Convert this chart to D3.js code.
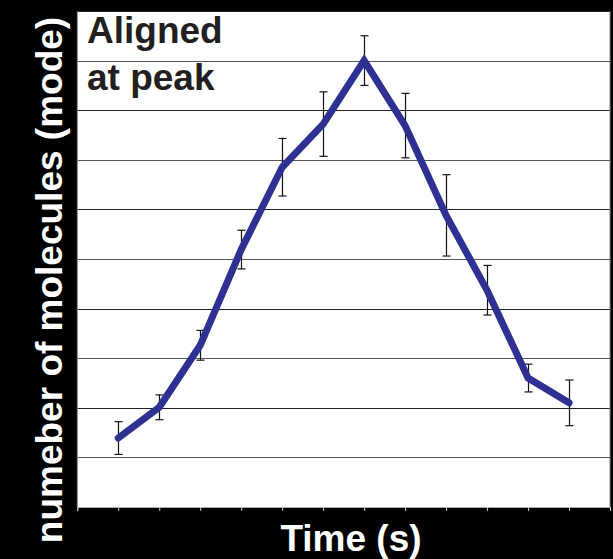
<!DOCTYPE html>
<html>
<head>
<meta charset="utf-8">
<script src="https://cdn.jsdelivr.net/npm/d3@7"></script>
<style>
html,body{margin:0;padding:0;background:#000;}
svg{display:block;}
</style>
</head>
<body>
<svg id="chart" width="613" height="559"></svg>
<script>
const timePoints = [1,2,3,4,5,6,7,8,9,10,11,12];
const moleculeValues = [1.39, 2.01, 3.26, 5.19, 6.85, 7.72, 9.0, 7.69, 5.88, 4.37, 2.60, 2.10];
const errorValues = [0.33, 0.25, 0.30, 0.39, 0.58, 0.65, 0.50, 0.65, 0.82, 0.50, 0.28, 0.46];
const xTicks = [0,1,2,3,4,5,6,7,8,9,10,11,12,13];
const yGrid = [1,2,3,4,5,6,7,8,9,10];
const titleLines = ["Aligned", "at peak"];
const xLabel = "Time (s)";
const yLabel = "numeber of molecules (mode)";

(function(){
const svg = d3.select("#chart");
const pLeft = 77.3, pRight = 610, pTop = 11, pBottom = 507;
const x = d3.scaleLinear().domain([0,13]).range([pLeft,pRight]);
const y = d3.scaleLinear().domain([0,10]).range([pBottom,pTop]);
const font = "'Liberation Sans', Arial, sans-serif";

svg.append("rect").attr("width",613).attr("height",559).attr("fill","#000");
svg.append("rect").attr("x",pLeft).attr("y",pTop).attr("width",pRight-pLeft).attr("height",pBottom-pTop).attr("fill","#fff");

// gridlines
svg.append("g").selectAll("line").data(yGrid).join("line")
  .attr("x1",pLeft).attr("x2",pRight)
  .attr("y1",d=>Math.round(y(d))+0.5).attr("y2",d=>Math.round(y(d))+0.5)
  .attr("stroke",(d,i)=> i%2===0 ? "#555" : "#222").attr("stroke-width",1);

// borders
svg.append("line").attr("x1",pLeft).attr("x2",pLeft).attr("y1",pTop).attr("y2",pBottom).attr("stroke","#888");
svg.append("line").attr("x1",pRight).attr("x2",pRight).attr("y1",pTop).attr("y2",pBottom).attr("stroke","#888");

// x axis
const xAxis = d3.axisBottom(x).tickValues(xTicks).tickSize(4).tickFormat("");
const gx = svg.append("g").attr("transform",`translate(0,${pBottom})`).call(xAxis);
gx.select(".domain").attr("stroke","#aaa");
gx.selectAll(".tick line").attr("stroke","#ccc");

// error bars
const eb = svg.append("g").attr("stroke","#111").attr("stroke-width",1.2);
timePoints.forEach((t,i)=>{
  const cx = Math.round(x(t))+0.5;
  const y1 = y(moleculeValues[i]+errorValues[i]);
  const y2 = y(moleculeValues[i]-errorValues[i]);
  eb.append("line").attr("x1",cx).attr("x2",cx).attr("y1",y1).attr("y2",y2);
  eb.append("line").attr("x1",cx-4).attr("x2",cx+4).attr("y1",y1).attr("y2",y1);
  eb.append("line").attr("x1",cx-4).attr("x2",cx+4).attr("y1",y2).attr("y2",y2);
});

// line
const line = d3.line().x((d,i)=>x(timePoints[i])).y(d=>y(d));
svg.append("path").datum(moleculeValues).attr("d",line)
  .attr("fill","none").attr("stroke","#2E3192").attr("stroke-width",7)
  .attr("stroke-linejoin","miter").attr("stroke-linecap","round");

// title
const tt = svg.append("text").attr("x",87).attr("y",43).attr("font-family",font)
  .attr("font-weight","bold").attr("font-size",37).attr("fill","#231F20");
titleLines.forEach((s,i)=>tt.append("tspan").attr("x",87).attr("dy",i===0?0:47).text(s));

// axis labels
svg.append("text").attr("x",351).attr("y",551).attr("text-anchor","middle")
  .attr("font-family",font).attr("font-weight","bold").attr("font-size",37).attr("fill","#fff").text(xLabel);
svg.append("text").attr("transform","translate(62,280) rotate(-90)").attr("text-anchor","middle")
  .attr("font-family",font).attr("font-weight","bold").attr("font-size",37).attr("fill","#fff").text(yLabel);
})();
</script>
</body>
</html>
